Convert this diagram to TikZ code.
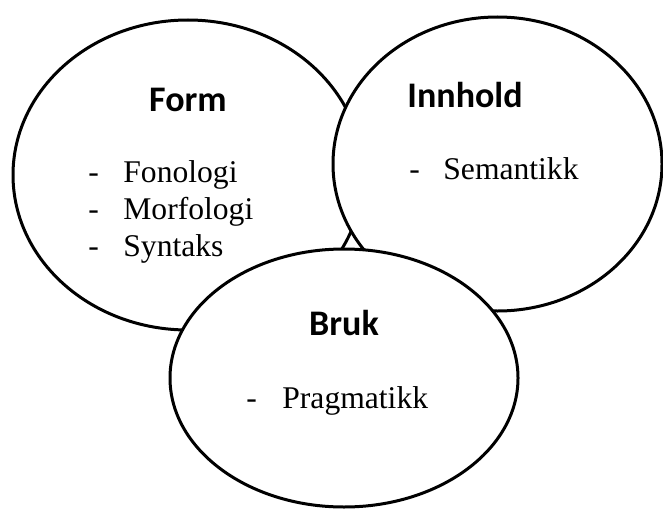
\documentclass[tikz,border=0pt]{standalone}
\usepackage{fontspec}
\setmainfont{Liberation Serif}
\newfontfamily\headfont{Carlito}
\usetikzlibrary{shapes.geometric}

\begin{document}
\begin{tikzpicture}[
    x=0.5pt, y=-0.5pt,
    blob/.style={ellipse, draw, line width=1.5pt, fill=white, inner sep=0pt},
    head/.style={font=\headfont\bfseries\fontsize{18}{22}\selectfont, anchor=base, inner sep=0pt},
    item/.style={font=\fontsize{15.8}{19}\selectfont, anchor=base west, inner sep=0pt},
    hyph/.style={item}
]
\useasboundingbox (0,0) rectangle (663,508);

% Circles
\node[blob, minimum width=175pt, minimum height=155pt] (form) at (188,175) {};
\node[blob, minimum width=164.5pt, minimum height=147pt] (innhold) at (497.5,164) {};
\node[blob, minimum width=174pt, minimum height=129pt] (bruk) at (344,378) {};

% Form
\node[head] (formhead) at (188,112) {Form};
\node[hyph] (d1) at (88,182) {-};
\node[item] (fonologi) at (123,182) {Fonologi};
\node[hyph] (d2) at (88,219) {-};
\node[item] (morfologi) at (123,219) {Morfologi};
\node[hyph] (d3) at (88,256) {-};
\node[item] (syntaks) at (123,256) {Syntaks};

% Innhold
\node[head] (innholdhead) at (465,108) {Innhold};
\node[hyph] (d4) at (409,179) {-};
\node[item] (semantikk) at (443,179) {Semantikk};

% Bruk
\node[head] (brukhead) at (344,335) {Bruk};
\node[hyph] (d5) at (246,408) {-};
\node[item] (pragmatikk) at (282,408) {Pragmatikk};

\end{tikzpicture}
\end{document}
